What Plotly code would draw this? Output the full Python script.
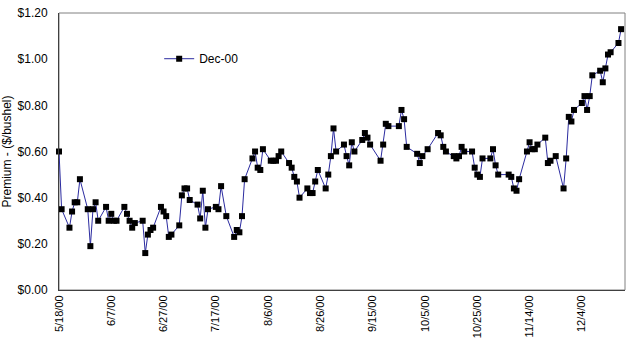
import plotly.graph_objects as go

dates = [
    "2000-05-18", "2000-05-19", "2000-05-22", "2000-05-23", "2000-05-24", "2000-05-25", "2000-05-26",
    "2000-05-29", "2000-05-30", "2000-05-31", "2000-06-01", "2000-06-02",
    "2000-06-05", "2000-06-06", "2000-06-07", "2000-06-08", "2000-06-09",
    "2000-06-12", "2000-06-13", "2000-06-14", "2000-06-15", "2000-06-16",
    "2000-06-19", "2000-06-20", "2000-06-21", "2000-06-22", "2000-06-23",
    "2000-06-26", "2000-06-27", "2000-06-28", "2000-06-29", "2000-06-30",
    "2000-07-03", "2000-07-04", "2000-07-05", "2000-07-06", "2000-07-07",
    "2000-07-10", "2000-07-11", "2000-07-12", "2000-07-13", "2000-07-14",
    "2000-07-17", "2000-07-18", "2000-07-19", "2000-07-21",
    "2000-07-24", "2000-07-25", "2000-07-26", "2000-07-27", "2000-07-28",
    "2000-07-31", "2000-08-01", "2000-08-02", "2000-08-03", "2000-08-04",
    "2000-08-07", "2000-08-08", "2000-08-09", "2000-08-10", "2000-08-11",
    "2000-08-14", "2000-08-15", "2000-08-16", "2000-08-17", "2000-08-18",
    "2000-08-21", "2000-08-22", "2000-08-23", "2000-08-24", "2000-08-25",
    "2000-08-28", "2000-08-29", "2000-08-30", "2000-08-31", "2000-09-01",
    "2000-09-04", "2000-09-05", "2000-09-06", "2000-09-07", "2000-09-08",
    "2000-09-11", "2000-09-12", "2000-09-13", "2000-09-14",
    "2000-09-18", "2000-09-19", "2000-09-20", "2000-09-21",
    "2000-09-25", "2000-09-26", "2000-09-27", "2000-09-28",
    "2000-10-02", "2000-10-03", "2000-10-04", "2000-10-06",
    "2000-10-10", "2000-10-11", "2000-10-12", "2000-10-13",
    "2000-10-16", "2000-10-17", "2000-10-18", "2000-10-19", "2000-10-20",
    "2000-10-23", "2000-10-24", "2000-10-25", "2000-10-26", "2000-10-27",
    "2000-10-30", "2000-10-31", "2000-11-01", "2000-11-02",
    "2000-11-06", "2000-11-07", "2000-11-08", "2000-11-09", "2000-11-10",
    "2000-11-13", "2000-11-14", "2000-11-15", "2000-11-16", "2000-11-17",
    "2000-11-20", "2000-11-21", "2000-11-22", "2000-11-24",
    "2000-11-27", "2000-11-28", "2000-11-29", "2000-11-30", "2000-12-01",
    "2000-12-04", "2000-12-05", "2000-12-06", "2000-12-07", "2000-12-08",
    "2000-12-11", "2000-12-12", "2000-12-13", "2000-12-14", "2000-12-15",
    "2000-12-18", "2000-12-19",
]

premium = [
    0.60, 0.35, 0.27, 0.34, 0.38, 0.38, 0.48,
    0.35, 0.19, 0.35, 0.38, 0.30,
    0.36, 0.30, 0.33, 0.30, 0.30,
    0.36, 0.33, 0.30, 0.27, 0.29,
    0.30, 0.16, 0.24, 0.26, 0.27,
    0.36, 0.34, 0.32, 0.23, 0.24,
    0.28, 0.41, 0.44, 0.44, 0.39,
    0.37, 0.31, 0.43, 0.27, 0.35,
    0.36, 0.35, 0.45, 0.32,
    0.23, 0.26, 0.25, 0.32, 0.48,
    0.57, 0.60, 0.53, 0.52, 0.61,
    0.56, 0.56, 0.56, 0.58, 0.60,
    0.55, 0.53, 0.49, 0.47, 0.40,
    0.44, 0.42, 0.42, 0.47, 0.52,
    0.44, 0.50, 0.58, 0.70, 0.60,
    0.63, 0.58, 0.54, 0.64, 0.60,
    0.65, 0.68, 0.66, 0.63,
    0.56, 0.63, 0.72, 0.71,
    0.71, 0.78, 0.74, 0.62,
    0.59, 0.55, 0.58, 0.61,
    0.68, 0.67, 0.62, 0.60,
    0.58, 0.57, 0.58, 0.62, 0.60,
    0.60, 0.53, 0.50, 0.49, 0.57,
    0.57, 0.61, 0.54, 0.50,
    0.50, 0.49, 0.44, 0.43, 0.48,
    0.60, 0.64, 0.61, 0.61, 0.63,
    0.66, 0.55, 0.56, 0.58,
    0.44, 0.57, 0.75, 0.73, 0.78,
    0.81, 0.84, 0.78, 0.84, 0.93,
    0.95, 0.90, 0.96, 1.02, 1.03,
    1.07, 1.13,
]

series_name = "Dec-00"
tick_dates = ["2000-05-18", "2000-06-07", "2000-06-27", "2000-07-17", "2000-08-06", "2000-08-26",
              "2000-09-15", "2000-10-05", "2000-10-25", "2000-11-14", "2000-12-04"]
tick_labels = ["5/18/00", "6/7/00", "6/27/00", "7/17/00", "8/6/00", "8/26/00",
               "9/15/00", "10/5/00", "10/25/00", "11/14/00", "12/4/00"]
y_ticks = [0.0, 0.2, 0.4, 0.6, 0.8, 1.0, 1.2]
y_labels = ["$0.00", "$0.20", "$0.40", "$0.60", "$0.80", "$1.00", "$1.20"]

fig = go.Figure()
fig.add_trace(go.Scatter(
    x=dates, y=premium, name=series_name, mode="lines+markers",
    line=dict(color="#2b2ba0", width=1),
    marker=dict(symbol="square", size=6, color="black", line=dict(width=0)),
    cliponaxis=False,
))

font = "Liberation Sans, Arial, sans-serif"
fig.update_layout(
    width=640, height=353,
    margin=dict(l=59, r=15, t=13, b=63),
    paper_bgcolor="white", plot_bgcolor="white",
    font=dict(family=font, size=11, color="black"),
    showlegend=True,
    legend=dict(x=0.177, y=0.835, xanchor="left", yanchor="middle", itemwidth=30,
                bgcolor="rgba(0,0,0,0)", font=dict(size=12, family=font)),
    xaxis=dict(
        type="date", range=["2000-05-18", "2000-12-20 12:00"],
        tickmode="array", tickvals=tick_dates, ticktext=tick_labels,
        tickangle=-90, showgrid=False, zeroline=False, automargin=False,
        showline=True, linecolor="#404040", linewidth=1,
        ticks="", tickfont=dict(size=11, family=font),
    ),
    yaxis=dict(
        range=[0, 1.2], tickmode="array", tickvals=y_ticks, ticktext=y_labels,
        showgrid=False, zeroline=False, showline=True, linecolor="#404040", linewidth=1,
        automargin=False,
        ticks="", ticklabelstandoff=8, tickfont=dict(size=12, family=font),
        title=dict(text="Premium - ($/bushel)", font=dict(size=12, family=font), standoff=4),
    ),
    shapes=[dict(type="rect", xref="paper", yref="paper", x0=0, y0=0, x1=1, y1=1,
                 line=dict(color="#808080", width=1), layer="below")],
)

fig.write_html("out.html")
